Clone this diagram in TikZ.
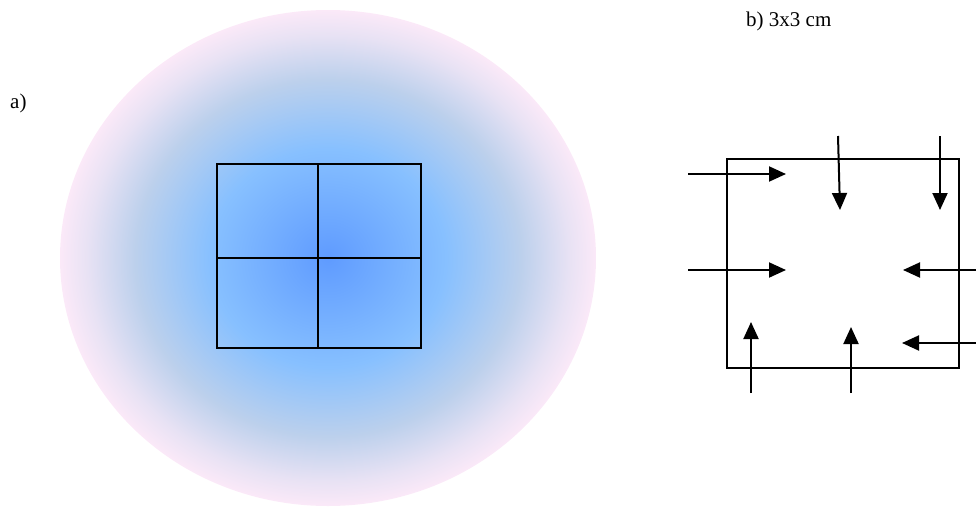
\documentclass[tikz,border=0pt]{standalone}
\usepackage{fontspec}
\setmainfont{Liberation Serif}
\usetikzlibrary{arrows.meta, positioning}
\definecolor{glowA}{RGB}{95,155,255}
\definecolor{glowB}{RGB}{135,192,255}
\definecolor{glowC}{RGB}{188,208,236}
\definecolor{glowD}{RGB}{232,226,244}
\definecolor{glowE}{RGB}{251,233,248}
\pgfdeclareradialshading{glow}{\pgfpoint{0bp}{0bp}}{%
  color(0bp)=(glowA); color(11bp)=(glowB); color(18bp)=(glowC);
  color(22.5bp)=(glowD); color(25bp)=(glowE); color(50bp)=(glowE)}

\begin{document}
\begin{tikzpicture}[
    x=1pt, y=-1pt,
    label/.style={font=\fontsize{21}{25}\selectfont, anchor=base west, inner sep=0pt},
    cellline/.style={line width=1.6pt, black},
    push/.style={-{Triangle[length=17pt, width=15pt]}, line width=2pt},
]
  \useasboundingbox (0,0) rectangle (976,506);

  % a) shaded sample with 2x2 cells
  \node[label] (lbla) at (10,108) {a)};
  \shade[shading=glow] (328,258) ellipse [x radius=268, y radius=248];
  \draw[cellline] (217,164) rectangle (421,348);
  \draw[cellline] (318,164) -- (318,348);
  \draw[cellline] (217,258) -- (421,258);

  % b) plate with forces
  \node[label] (lblb) at (746,27) {b) 3x3 cm};
  \node[draw, line width=1.3pt, minimum width=232pt, minimum height=209pt, inner sep=0pt] (plate) at (843,263.5) {};
  \foreach \i/\sx/\sy/\ex/\ey in {1/688/174/786/174, 2/838/136/840/210, 3/940/136/940/210,
      4/688/270/786/270, 5/976/270/903/270, 6/751/393/751/322, 7/851/393/851/327, 8/976/343/902/343}{
    \coordinate (s\i) at (\sx,\sy);
    \coordinate (e\i) at (\ex,\ey);
    \draw[push] (s\i) -- (e\i);
  }
\end{tikzpicture}
\end{document}
